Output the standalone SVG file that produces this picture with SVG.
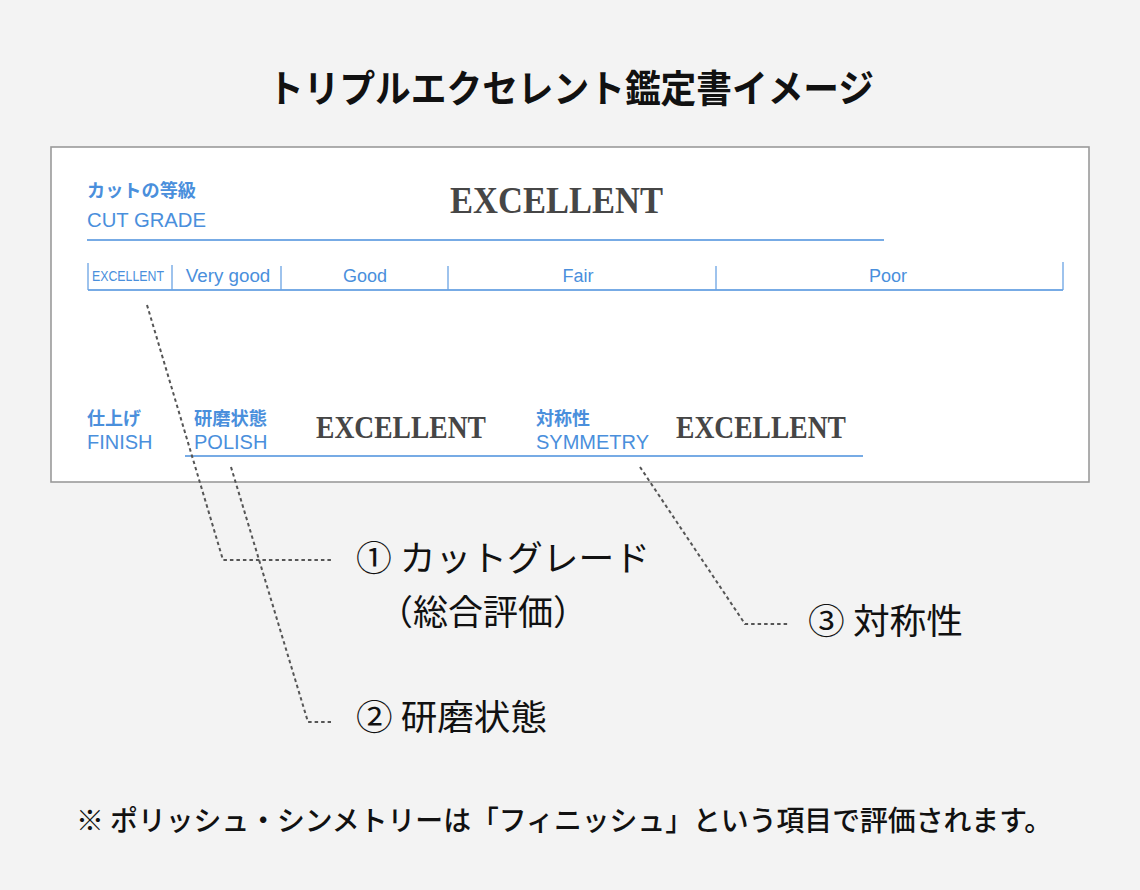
<svg xmlns="http://www.w3.org/2000/svg" width="1140" height="890" viewBox="0 0 1140 890">
<style>
.jp{font-family:"Noto Sans CJK JP","Noto Sans",sans-serif;}
.title{font-size:38px;font-weight:700;fill:#111;}
.call{font-size:35px;font-weight:400;fill:#111;}
.note{font-size:28px;font-weight:500;fill:#111;}
.bjp{font-family:"Noto Sans CJK JP",sans-serif;font-size:18px;font-weight:600;fill:#4a8fdc;}
.ben{font-family:"Liberation Sans",Arial,sans-serif;font-size:20px;fill:#4a8fdc;}
.sc{font-family:"Liberation Sans",Arial,sans-serif;font-size:18px;fill:#4a8fdc;text-anchor:middle;}
.ex{font-family:"Liberation Serif","Times New Roman",serif;font-weight:700;fill:#464646;}
.bl{stroke:#4a8fdc;stroke-width:1.3;fill:none;}
.tk{stroke:#6aa3e4;stroke-width:1.3;fill:none;}
.lead{stroke:#555;stroke-width:2;stroke-dasharray:3.5 3;fill:none;}
</style>
<rect x="0" y="0" width="1140" height="890" fill="#f3f3f3"/>
<text id="title" class="jp title" x="571" y="102" text-anchor="middle" textLength="606" lengthAdjust="spacingAndGlyphs">トリプルエクセレント鑑定書イメージ</text>
<g id="certificate">
<rect x="51" y="147" width="1038" height="335" fill="#fff" stroke="#9a9a9a" stroke-width="1.6"/>
<g id="cut-grade">
<text class="bjp" x="87" y="197" textLength="109" lengthAdjust="spacingAndGlyphs">カットの等級</text>
<text class="ben" x="87" y="227" textLength="119" lengthAdjust="spacingAndGlyphs">CUT GRADE</text>
<text class="ex" x="450" y="213" font-size="38" textLength="213" lengthAdjust="spacingAndGlyphs">EXCELLENT</text>
<line class="bl" x1="87" y1="240" x2="884" y2="240"/>
</g>
<g id="scale">
<line class="bl" x1="88" y1="290" x2="1063" y2="290"/>
<line class="tk" x1="88" y1="263" x2="88" y2="290"/>
<line class="tk" x1="172" y1="265" x2="172" y2="290"/>
<line class="tk" x1="281" y1="266" x2="281" y2="290"/>
<line class="tk" x1="448" y1="266" x2="448" y2="290"/>
<line class="tk" x1="716" y1="266" x2="716" y2="290"/>
<line class="tk" x1="1063" y1="262" x2="1063" y2="290"/>
<text class="sc" x="128" y="281" style="font-size:14.5px" textLength="72" lengthAdjust="spacingAndGlyphs">EXCELLENT</text>
<text class="sc" x="228" y="282" style="font-size:18.8px">Very good</text>
<text class="sc" x="365" y="282">Good</text>
<text class="sc" x="578" y="282">Fair</text>
<text class="sc" x="888" y="282">Poor</text>
</g>
<g id="finish">
<text class="bjp" x="87" y="425" textLength="54" lengthAdjust="spacingAndGlyphs">仕上げ</text>
<text class="ben" x="87" y="449">FINISH</text>
</g>
<g id="polish">
<text class="bjp" x="194" y="425" textLength="73" lengthAdjust="spacingAndGlyphs">研磨状態</text>
<text class="ben" x="194" y="449">POLISH</text>
<text class="ex" x="316" y="438" font-size="31" textLength="170" lengthAdjust="spacingAndGlyphs">EXCELLENT</text>
</g>
<g id="symmetry">
<text class="bjp" x="536" y="425" textLength="54" lengthAdjust="spacingAndGlyphs">対称性</text>
<text class="ben" x="536" y="449">SYMMETRY</text>
<text class="ex" x="676" y="438" font-size="31" textLength="170" lengthAdjust="spacingAndGlyphs">EXCELLENT</text>
</g>
<line class="bl" x1="185" y1="456" x2="863" y2="456"/>
</g>
<g id="connectors">
<polyline class="lead" points="147,305 223,560 331,560"/>
<polyline class="lead" points="231,467 308,722 331,722"/>
<polyline class="lead" points="640,467 745,624 790,624"/>
</g>
<g id="label-1">
<text class="jp call" x="356" y="571" textLength="294" lengthAdjust="spacingAndGlyphs">① カットグレード</text>
<text class="jp call" x="378" y="625">（総合評価）</text>
</g>
<g id="label-2">
<text class="jp call" x="356" y="730" textLength="191" lengthAdjust="spacingAndGlyphs">② 研磨状態</text>
</g>
<g id="label-3">
<text class="jp call" x="808" y="634" textLength="155" lengthAdjust="spacingAndGlyphs">③ 対称性</text>
</g>
<text id="note" class="jp note" x="76" y="831" textLength="976" lengthAdjust="spacingAndGlyphs">※ ポリッシュ・シンメトリーは「フィニッシュ」という項目で評価されます。</text>
</svg>
